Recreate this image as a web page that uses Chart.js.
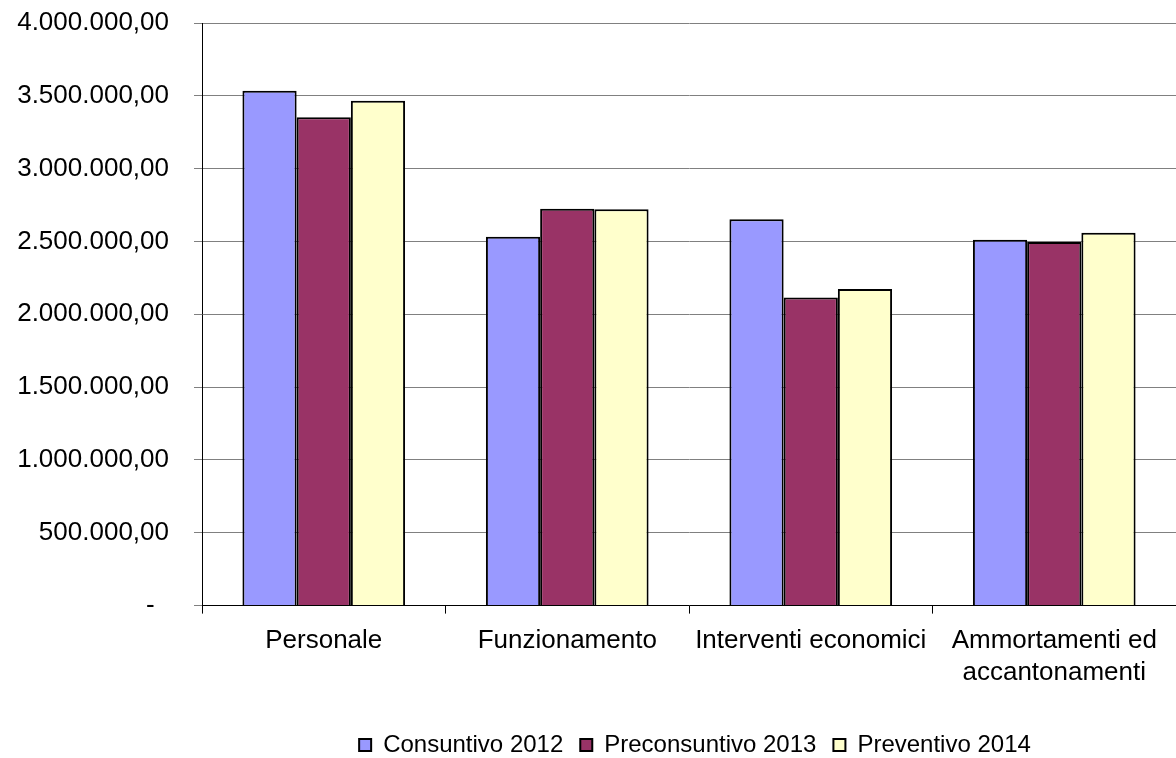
<!DOCTYPE html>
<html>
<head>
<meta charset="utf-8">
<script src="https://cdn.jsdelivr.net/npm/chart.js@4/dist/chart.umd.min.js"></script>
<style>
html,body{margin:0;padding:0;background:#fff;}
#wrap{width:1176px;height:758px;position:relative;}
</style>
</head>
<body>
<div id="wrap"><canvas id="c"></canvas></div>
<script>
const categories = ["Personale", "Funzionamento", "Interventi economici", ["Ammortamenti ed", "accantonamenti"]];
const seriesNames = ["Consuntivo 2012", "Preconsuntivo 2013", "Preventivo 2014"];
const consuntivo2012 = [3534000, 2533000, 2652000, 2512000];
const preconsuntivo2013 = [3353000, 2725000, 2116000, 2496000];
const preventivo2014 = [3466000, 2721000, 2173000, 2560000];
const yTicks = [0, 500000, 1000000, 1500000, 2000000, 2500000, 3000000, 3500000, 4000000];

function fmtIt(v) {
  if (v === 0) return "-\u00A0\u00A0";
  const parts = Math.round(v).toString().replace(/\B(?=(\d{3})+(?!\d))/g, ".");
  return parts + ",00";
}

const FONT = "'Liberation Sans', Arial, Helvetica, sans-serif";

const legendPlacer = {
  id: "legendPlacer",
  afterLayout(chart) {
    const lg = chart.legend, ca = chart.chartArea;
    if (!lg) return;
    lg.left = ca.left + 6; lg.right = ca.right + 6; lg.width = ca.right - ca.left;
    lg.top += 9; lg.bottom += 9;
  }
};

new Chart(document.getElementById("c"), {
  type: "bar",
  data: {
    labels: categories,
    datasets: [
      { label: seriesNames[0], data: consuntivo2012, backgroundColor: "#9999FF", borderColor: "#000", borderWidth: 2 },
      { label: seriesNames[1], data: preconsuntivo2013, backgroundColor: "#993366", borderColor: "#000", borderWidth: 2 },
      { label: seriesNames[2], data: preventivo2014, backgroundColor: "#FFFFCC", borderColor: "#000", borderWidth: 2 }
    ]
  },
  plugins: [legendPlacer],
  options: {
    responsive: true,
    maintainAspectRatio: false,
    animation: false,
    devicePixelRatio: 1,
    layout: { padding: { top: 23, right: 0, bottom: 0, left: 0 } },
    datasets: { bar: { categoryPercentage: 0.668, barPercentage: 1.0, borderSkipped: "start" } },
    scales: {
      x: {
        afterFit: (s) => { s.height += 7; },
        grid: { offset: true, drawOnChartArea: false, drawTicks: true, tickLength: 8, color: "#000" },
        border: { color: "#000", width: 1 },
        ticks: { color: "#000", font: { family: FONT, size: 26 }, padding: 12, maxRotation: 0, autoSkip: false }
      },
      y: {
        min: 0, max: 4000000,
        afterFit: (s) => { s.width = 202; s.paddingTop = 15; s.paddingBottom = 15; },
        afterBuildTicks: (s) => { s.ticks = yTicks.map(v => ({ value: v })); },
        grid: { color: "#808080", lineWidth: 1, tickLength: 8 },
        border: { color: "#000", width: 1 },
        ticks: { color: "#000", font: { family: FONT, size: 26 }, padding: 25, callback: (v) => fmtIt(v) }
      }
    },
    plugins: {
      tooltip: { enabled: false },
      legend: {
        position: "bottom",
        labels: { color: "#000", font: { family: FONT, size: 24 }, boxWidth: 12, boxHeight: 12, padding: 17 }
      }
    }
  }
});
</script>
</body>
</html>
